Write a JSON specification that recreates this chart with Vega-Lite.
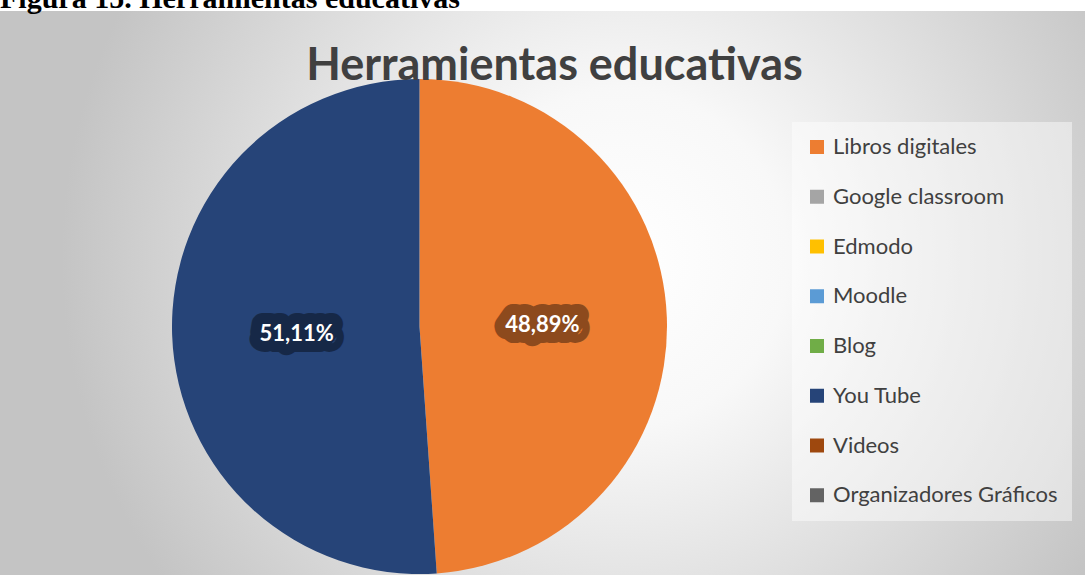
{
  "$schema": "https://vega.github.io/schema/vega-lite/v6.json",
  "background": "white",
  "padding": {"left": -246, "top": -16, "right": 0, "bottom": 0},
  "title": {
    "text": "Figura 15. Herramientas educativas",
    "anchor": "start",
    "frame": "group",
    "font": "Liberation Serif",
    "fontSize": 30,
    "fontWeight": "bold",
    "color": "#000000",
    "baseline": "alphabetic",
    "offset": -27,
    "dx": 246
  },
  "config": {
    "locale": {"number": {"decimal": ",", "thousands": ".", "grouping": [3], "currency": ["", " €"]}},
    "view": {"stroke": null}
  },
  "datasets": {
    "herr": [
      {"herramienta": "Libros digitales", "pct": 0.4889, "orden": 1},
      {"herramienta": "Google classroom", "pct": 0, "orden": 2},
      {"herramienta": "Edmodo", "pct": 0, "orden": 3},
      {"herramienta": "Moodle", "pct": 0, "orden": 4},
      {"herramienta": "Blog", "pct": 0, "orden": 5},
      {"herramienta": "You Tube", "pct": 0.5111, "orden": 6},
      {"herramienta": "Videos", "pct": 0, "orden": 7},
      {"herramienta": "Organizadores Gráficos", "pct": 0, "orden": 8}
    ]
  },
  "vconcat": [
    {
      "width": 1331,
      "height": 631,
      "view": {
        "stroke": null,
        "fill": {
          "gradient": "radial",
          "x1": 0.651, "y1": 0.449, "r1": 0,
          "x2": 0.651, "y2": 0.449, "r2": 0.42,
          "stops": [
            {"offset": 0, "color": "#ffffff"},
            {"offset": 0.3, "color": "#f8f8f8"},
            {"offset": 1, "color": "#c4c4c4"}
          ]
        }
      },
      "title": {
        "text": "Herramientas educativas",
        "orient": "bottom",
        "anchor": "middle",
        "frame": "group",
        "font": "Lato",
        "fontSize": 45,
        "fontWeight": "bold",
        "color": "#404040",
        "baseline": "alphabetic",
        "offset": 0,
        "dx": 135,
        "dy": -562
      },
      "data": {"name": "herr"},
      "encoding": {
        "theta": {"field": "pct", "type": "quantitative", "stack": true},
        "order": {"field": "orden", "type": "quantitative"}
      },
      "layer": [
        {
          "mark": {"type": "arc", "outerRadius": 247.5},
          "encoding": {
            "color": {
              "field": "herramienta",
              "type": "nominal",
              "scale": {
                "domain": ["Libros digitales", "Google classroom", "Edmodo", "Moodle", "Blog", "You Tube", "Videos", "Organizadores Gráficos"],
                "range": ["#ED7D31", "#A5A5A5", "#FFC000", "#5B9BD5", "#70AD47", "#264478", "#9E480E", "#636363"]
              },
              "legend": {
                "orient": "none",
                "legendX": 1038,
                "legendY": 111,
                "title": null,
                "padding": 14,
                "fillColor": "rgba(255,255,255,0.45)",
                "symbolType": "square",
                "symbolSize": 196,
                "symbolStrokeWidth": 0,
                "symbolOpacity": 1,
                "labelFont": "Lato",
                "labelFontSize": 22,
                "labelColor": "#404040",
                "labelOffset": 5,
                "labelLimit": 400,
                "rowPadding": 27.75
              }
            }
          }
        },
        {
          "transform": [{"filter": "datum.pct > 0"}],
          "mark": {
            "type": "text",
            "radius": 123,
            "dy": 3,
            "font": "Lato",
            "fontSize": 22,
            "fontWeight": "bold",
            "fill": "#000000",
            "stroke": "#000000",
            "strokeWidth": 22,
            "strokeJoin": "round",
            "opacity": 0.4,
            "align": "center",
            "baseline": "middle"
          },
          "encoding": {"text": {"field": "pct", "type": "quantitative", "format": ".2%"}}
        },
        {
          "transform": [{"filter": "datum.pct > 0"}],
          "mark": {
            "type": "text",
            "radius": 123,
            "dy": 3,
            "font": "Lato",
            "fontSize": 22,
            "fontWeight": "bold",
            "fill": "#ffffff",
            "align": "center",
            "baseline": "middle"
          },
          "encoding": {"text": {"field": "pct", "type": "quantitative", "format": ".2%"}}
        }
      ]
    }
  ]
}
